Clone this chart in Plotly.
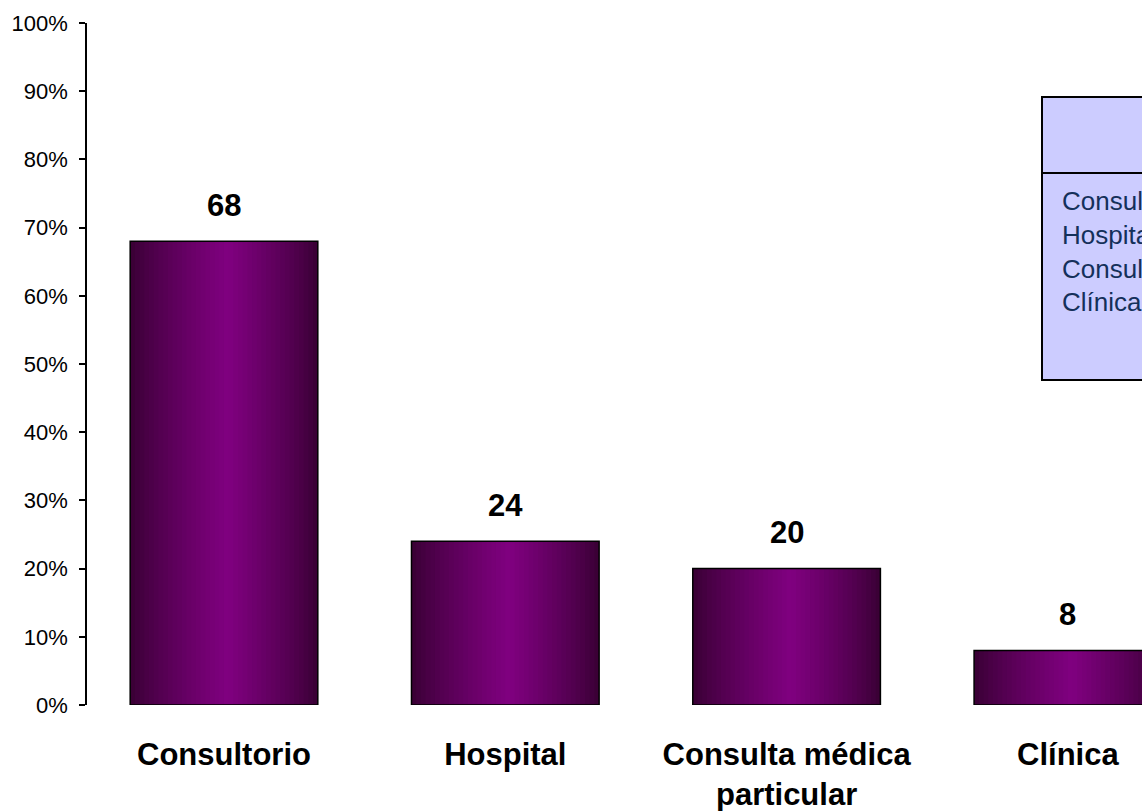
import plotly.graph_objects as go

categories = ["Consultorio", "Hospital", "Consulta médica<br>particular", "Clínica"]
values = [68, 24, 20, 8]
value_labels = ["68", "24", "20", "8"]
table_rows = ["Consultorio", "Hospital", "Consulta médica particular", "Clínica"]
y_ticks = [0, 10, 20, 30, 40, 50, 60, 70, 80, 90, 100]
y_tick_text = ["0%", "10%", "20%", "30%", "40%", "50%", "60%", "70%", "80%", "90%", "100%"]

FONT = "Liberation Sans, Arial, sans-serif"
BW = 0.667
N = 40
DARK = (55, 0, 50)
BRIGHT = (128, 0, 128)
PEAK = 0.52

fig = go.Figure()

def grad(t):
    if t <= PEAK:
        f = t / PEAK
    else:
        f = (1 - t) / (1 - PEAK)
    f = f ** 0.8
    return "rgb(%d,%d,%d)" % tuple(round(d + (b - d) * f) for d, b in zip(DARK, BRIGHT))

step = BW / N
for i in range(N):
    t = (i + 0.5) / N
    fig.add_trace(go.Bar(
        x=categories, y=values,
        width=step * 1.4 if i < N - 1 else step,
        offset=-BW / 2 + i * step,
        marker=dict(color=grad(t), line=dict(width=0)),
        hoverinfo="skip", showlegend=False,
    ))

fig.add_trace(go.Bar(
    x=categories, y=values, width=BW, offset=-BW / 2,
    marker=dict(color="rgba(0,0,0,0)", line=dict(color="black", width=1.5)),
    showlegend=False,
))

for c, v, lab in zip(categories, values, value_labels):
    fig.add_annotation(x=c, y=v, text=lab, showarrow=False, yshift=36, yanchor="middle",
                       font=dict(family=FONT, size=31, color="black", weight="bold"))

# data table legend (cropped at right edge)
L, T, B, W, H = 87, 23, 106, 1142, 811
DOMAIN_W = W - L
DOMAIN_H = H - T - B

def px_x(px):
    return (px - L) / DOMAIN_W

def px_y(py):
    return (H - B - py) / DOMAIN_H

fig.add_shape(type="rect", xref="paper", yref="paper", x0=px_x(1042), x1=1.2,
              y0=px_y(380), y1=px_y(97),
              fillcolor="#CCCCFF", line=dict(color="black", width=2), layer="above")
fig.add_shape(type="line", xref="paper", yref="paper", x0=px_x(1042), x1=1.2,
              y0=px_y(173), y1=px_y(173),
              line=dict(color="black", width=2), layer="above")
row_py = [201, 235, 269, 302]
for txt, py in zip(table_rows, row_py):
    fig.add_annotation(xref="paper", yref="paper", x=px_x(1060), y=px_y(py), text=txt,
                       showarrow=False, xanchor="left", yanchor="middle",
                       font=dict(family=FONT, size=26, color="#14305A"))

fig.update_layout(
    width=W, height=H,
    margin=dict(l=L, r=0, t=T, b=B),
    paper_bgcolor="white", plot_bgcolor="white",
    barmode="overlay",
    showlegend=False,
    hovermode=False,
    xaxis=dict(
        type="category", range=[-0.487, -0.487 + DOMAIN_W / 281.3],
        showline=False, showgrid=False, zeroline=False,
        ticks="", ticklabelstandoff=28,
        tickfont=dict(family=FONT, size=31, color="black", weight="bold"),
    ),
    yaxis=dict(
        range=[0, 100], tickvals=y_ticks, ticktext=y_tick_text,
        showline=True, linecolor="black", linewidth=1.5,
        ticks="outside", ticklen=6, tickcolor="black", tickwidth=1.5,
        showgrid=False, zeroline=False, ticklabelstandoff=7,
        tickfont=dict(family=FONT, size=22, color="black"),
    ),
)

fig.write_html("out.html",
               config={"displayModeBar": False},
               post_script="document.body.style.margin='0';document.body.style.overflow='hidden';")
